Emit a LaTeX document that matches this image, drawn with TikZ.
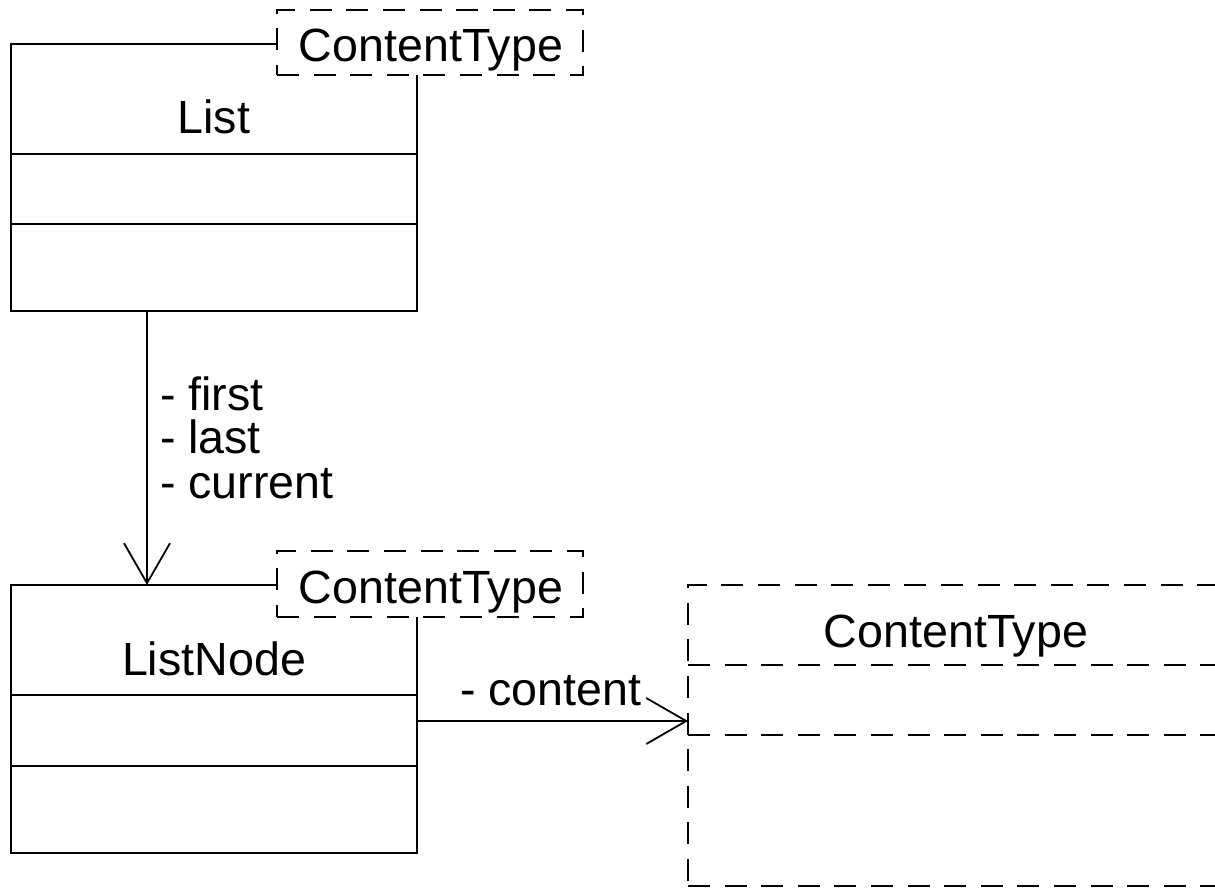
\documentclass[tikz,border=0pt]{standalone}
\usepackage{fontspec}
\setmainfont{Liberation Sans}
\usetikzlibrary{arrows.meta,fit}

\begin{document}
\begin{tikzpicture}[x=0.5pt,y=-0.5pt,
  line width=0.9pt,
  every node/.style={font=\fontsize{23.3pt}{28pt}\selectfont, inner sep=0pt, outer sep=0pt},
  classbox/.style={draw, rectangle, inner sep=0pt},
  tmplbox/.style={draw, rectangle, fill=white, inner sep=0pt, dash pattern=on 11pt off 7.3pt},
  ghostbox/.style={draw, rectangle, inner sep=0pt, dash pattern=on 11pt off 7.3pt},
  divider/.style={draw},
  ghostdivider/.style={draw, dash pattern=on 11pt off 7.3pt},
  assoc/.style={draw, -{Straight Barb[length=20pt,width=23pt]}},
  caption/.style={anchor=base},
  rolelabel/.style={anchor=base west}
]
\path[use as bounding box, clip] (0,0) rectangle (1215,890);

% class List with its template parameter
\node[classbox, fit={(11,44) (417,311)}] (list) {};
\node[caption] (listname) at (214,133) {List};
\draw[divider] (list.west |- 0,154) -- (list.east |- 0,154);
\draw[divider] (list.west |- 0,224) -- (list.east |- 0,224);
\node[tmplbox, fit={(277,10) (583,75)}] (listparam) {};
\node[caption] (listparamtxt) at (431,61) {ContentType};

% class ListNode with its template parameter
\node[classbox, fit={(11,585) (417,853)}] (listnode) {};
\node[caption] (listnodename) at (214,675) {ListNode};
\draw[divider] (listnode.west |- 0,695) -- (listnode.east |- 0,695);
\draw[divider] (listnode.west |- 0,766) -- (listnode.east |- 0,766);
\node[tmplbox, fit={(277,551) (583,617)}] (nodeparam) {};
\node[caption] (nodeparamtxt) at (431,603) {ContentType};

% the bound parameter type
\node[ghostbox, fit={(688,585) (1224,886)}] (content) {};
\node[caption] (contentname) at (956,647) {ContentType};
\draw[ghostdivider] (content.west |- 0,665) -- (content.east |- 0,665);
\draw[ghostdivider] (content.west |- 0,735) -- (content.east |- 0,735);

% associations
\draw[assoc] ([xshift=68pt]list.south west) -- ([xshift=68pt]listnode.north west);
\node[rolelabel] (rfirst) at (160,410) {- first};
\node[rolelabel] (rlast) at (160,453) {- last};
\node[rolelabel] (rcurrent) at (160,498) {- current};

\draw[assoc] (listnode.east |- 0,721) -- (content.west |- 0,721);
\node[rolelabel] (rcontent) at (460,705) {- content};
\end{tikzpicture}
\end{document}
